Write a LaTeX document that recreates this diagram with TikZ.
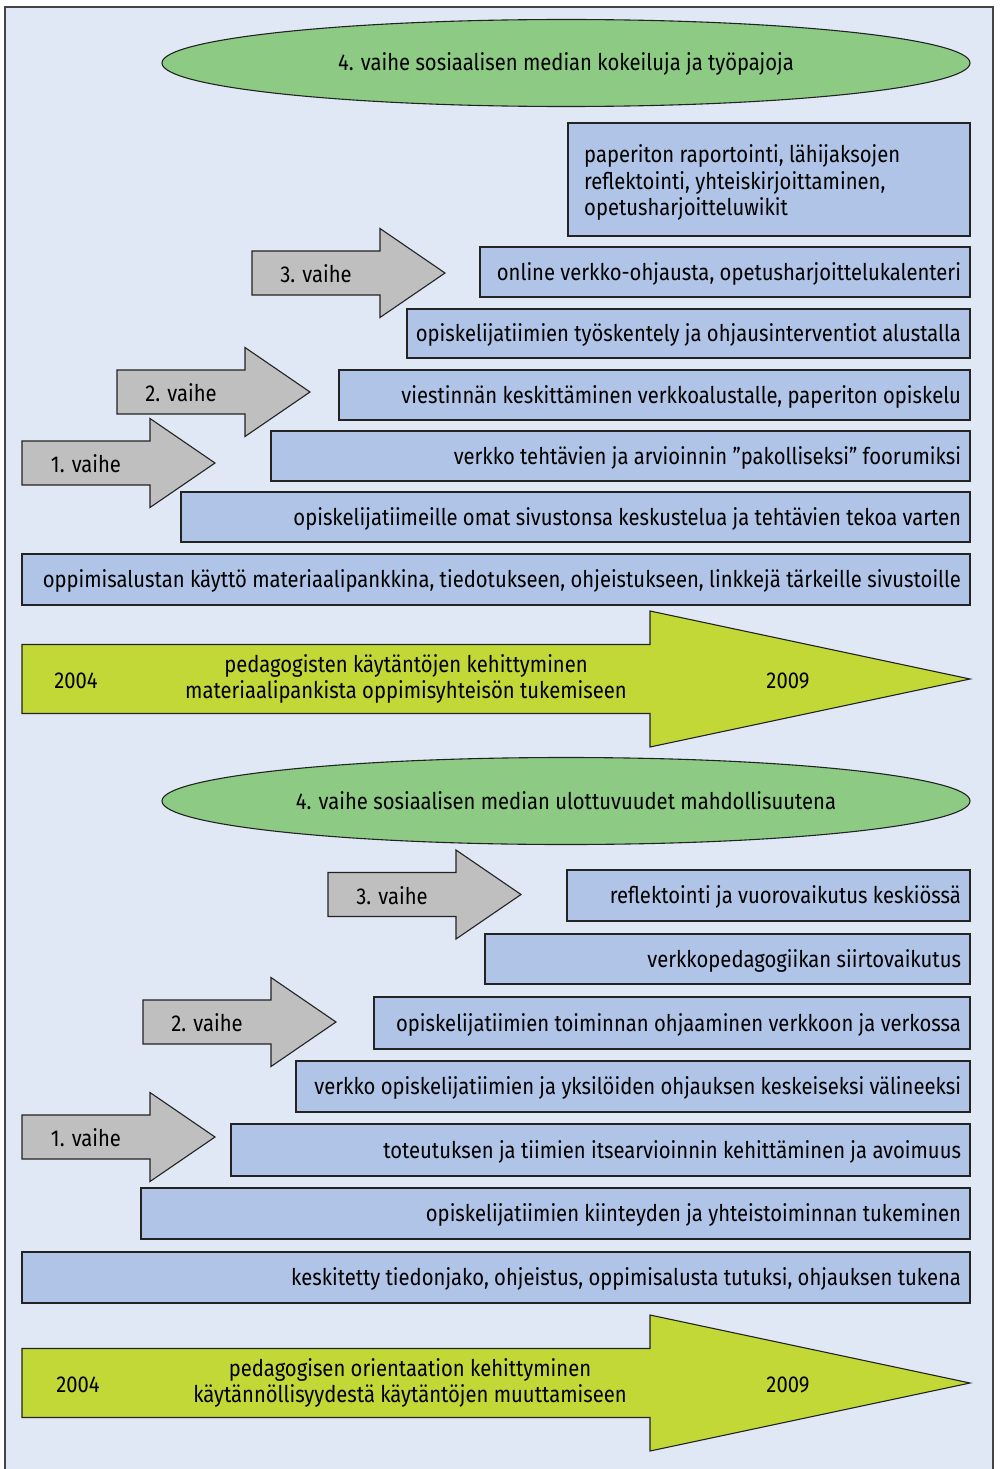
\documentclass[tikz,border=0pt]{standalone}
\usepackage{fontspec}
\setmainfont{Fira Sans}[FakeStretch=0.88]
\usetikzlibrary{shapes.geometric}

\definecolor{panelbg}{RGB}{224,232,245}
\definecolor{boxfill}{RGB}{175,196,230}
\definecolor{ovalfill}{RGB}{141,203,132}
\definecolor{timefill}{RGB}{194,216,54}
\definecolor{phasefill}{RGB}{191,191,191}
\definecolor{edge}{RGB}{35,35,35}

\tikzset{
  every node/.style={font=\fontsize{23}{26.5}\selectfont, text=black},
  panel/.style={draw=edge!85, line width=1.4pt, fill=panelbg},
  box/.style={draw=edge, line width=1.1pt, fill=boxfill, rectangle,
    inner xsep=9pt, inner ysep=0pt, outer sep=0pt,
    text height=18pt, text depth=2pt},
  oval/.style={ellipse, draw=edge, line width=1.1pt, fill=ovalfill,
    inner sep=0pt, minimum width=808pt, minimum height=87pt,
    text height=18pt, text depth=2pt},
  phasearrow/.style={draw=edge, line width=1.1pt, fill=phasefill},
  timearrow/.style={draw=edge, line width=1.1pt, fill=timefill},
  lbl/.style={inner sep=0pt},
}

% right-aligned one-line box: name, x1, y1, x2, y2, text
\newcommand\rowbox[6]{%
  \pgfmathsetmacro\bw{#4-#2}%
  \pgfmathsetmacro\bh{#5-#3}%
  \pgfmathsetmacro\tw{#4-#2-18}%
  \node[box, anchor=north west, minimum width=\bw pt, minimum height=\bh pt]
    (#1) at (#2,#3) {\makebox[\tw pt][r]{#6}};%
}

% grey phase arrow: name, left x, middle y, text
\newcommand\phase[4]{%
  \draw[phasearrow] (#2,#3-22) -- (#2+128,#3-22) -- (#2+128,#3-44.5)
    -- (#2+193,#3) -- (#2+128,#3+44.5) -- (#2+128,#3+22) -- (#2,#3+22) -- cycle;
  \node[lbl] (#1) at (#2+64,#3+1) {#4};%
}

% green-yellow time arrow: middle y
\newcommand\timeline[1]{%
  \draw[timearrow] (22,#1-34.5) -- (650,#1-34.5) -- (650,#1-68)
    -- (970,#1) -- (650,#1+68) -- (650,#1+34.5) -- (22,#1+34.5) -- cycle;%
}

\begin{document}
\begin{tikzpicture}[x=1pt, y=-1pt]
\useasboundingbox (0,0) rectangle (1000,1469);
\fill[white] (0,0) rectangle (1000,1469);
\draw[panel] (5,7) rectangle (993,1490);

% ---------- upper chart ----------
\node[oval] (topoval) at (566,63) {4. vaihe sosiaalisen median kokeiluja ja työpajoja};

\node[box, anchor=north west, minimum width=402pt, minimum height=113pt] (tA) at (568,123) {};
\node[lbl, anchor=north west, align=left] (tAtext) at (584,144.5)
  {paperiton raportointi, lähijaksojen\\reflektointi, yhteiskirjoittaminen,\\opetusharjoitteluwikit};

\rowbox{tB}{480}{247}{970}{297}{online verkko-ohjausta, opetusharjoittelukalenteri}
\rowbox{tC}{407}{309}{970}{358}{opiskelijatiimien työskentely ja ohjausinterventiot alustalla}
\rowbox{tD}{339}{370}{970}{420}{viestinnän keskittäminen verkkoalustalle, paperiton opiskelu}
\rowbox{tE}{271}{431}{970}{481}{verkko tehtävien ja arvioinnin ”pakolliseksi” foorumiksi}
\rowbox{tF}{181}{492}{970}{542}{opiskelijatiimeille omat sivustonsa keskustelua ja tehtävien tekoa varten}
\rowbox{tG}{22}{554}{970}{605}{oppimisalustan käyttö materiaalipankkina, tiedotukseen, ohjeistukseen, linkkejä tärkeille sivustoille}

\phase{tP3}{252}{273}{3. vaihe}
\phase{tP2}{117}{392}{2. vaihe}
\phase{tP1}{22}{463}{1. vaihe}

\timeline{679}
\node[lbl] (tStart) at (76,681) {2004};
\node[lbl, align=center] (tMid) at (406,679)
  {pedagogisten käytäntöjen kehittyminen\\materiaalipankista oppimisyhteisön tukemiseen};
\node[lbl] (tEnd) at (788,681) {2009};

% ---------- lower chart ----------
\node[oval] (botoval) at (566,801) {4. vaihe sosiaalisen median ulottuvuudet mahdollisuutena};

\rowbox{bA}{567}{870}{970}{921}{reflektointi ja vuorovaikutus keskiössä}
\rowbox{bB}{485}{934}{970}{984}{verkkopedagogiikan siirtovaikutus}
\rowbox{bC}{374}{997}{970}{1049}{opiskelijatiimien toiminnan ohjaaminen verkkoon ja verkossa}
\rowbox{bD}{296}{1061}{970}{1112}{verkko opiskelijatiimien ja yksilöiden ohjauksen keskeiseksi välineeksi}
\rowbox{bE}{231}{1124}{970}{1176}{toteutuksen ja tiimien itsearvioinnin kehittäminen ja avoimuus}
\rowbox{bF}{141}{1188}{970}{1239}{opiskelijatiimien kiinteyden ja yhteistoiminnan tukeminen}
\rowbox{bG}{22}{1252}{970}{1303}{keskitetty tiedonjako, ohjeistus, oppimisalusta tutuksi, ohjauksen tukena}

\phase{bP3}{328}{894.5}{3. vaihe}
\phase{bP2}{143}{1022}{2. vaihe}
\phase{bP1}{22}{1137}{1. vaihe}

\timeline{1383}
\node[lbl] (bStart) at (78,1385) {2004};
\node[lbl, align=center] (bMid) at (410,1383)
  {pedagogisen orientaation kehittyminen\\käytännöllisyydestä käytäntöjen muuttamiseen};
\node[lbl] (bEnd) at (788,1385) {2009};
\end{tikzpicture}
\end{document}
